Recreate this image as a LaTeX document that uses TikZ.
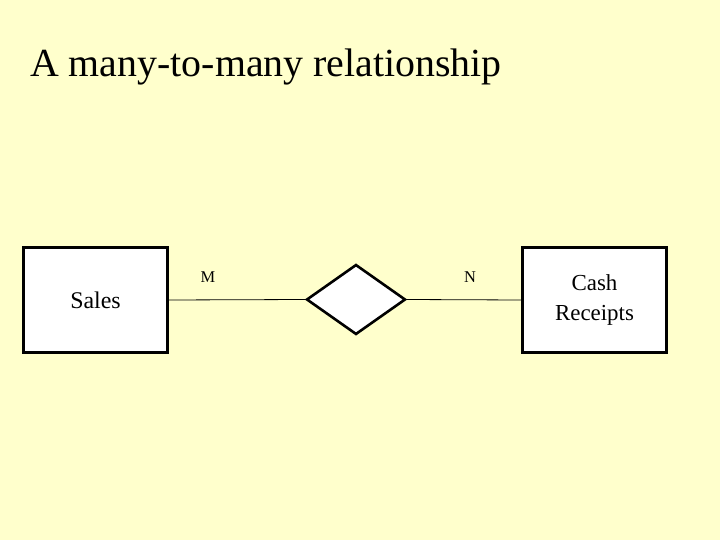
\documentclass[tikz,border=0pt]{standalone}
\usepackage{fontspec}
\setmainfont{Liberation Serif}
\usetikzlibrary{shapes.geometric}

\definecolor{slidebg}{HTML}{FFFFCC}

\begin{document}
\begin{tikzpicture}[x=1bp,y=-1bp,
  entity/.style={draw, line width=2.6bp, fill=white, minimum width=144bp, minimum height=105bp, inner sep=0pt, align=center, font=\fontsize{23}{30}\selectfont},
  reln/.style={draw, diamond, line width=2.6bp, fill=white, minimum width=99bp, minimum height=70bp, inner sep=0pt},
  card/.style={inner sep=0pt, font=\fontsize{16.5}{18}\selectfont}]

% Background
\fill[slidebg] (0,0) rectangle (720,540);
\useasboundingbox (0,0) rectangle (720,540);

% Title
\node[anchor=base west, inner sep=0pt, font=\fontsize{40}{46}\selectfont] (title) at (30,77) {A many-to-many relationship};

% Entities and relationship
\node[entity, font=\fontsize{24}{30}\selectfont] (sales) at (95.5,300) {Sales};
\node[entity] (cash) at (594.5,300) {Cash\\Receipts};
\node[reln] (rel) at (356,299.5) {};

% Connectors
\draw[line width=0.8bp] (sales.east) -- (rel.west);
\draw[line width=0.8bp] (rel.east) -- (cash.west);

% Cardinalities
\node[card] (m) at (208,277) {M};
\node[card] (n) at (470,277) {N};

\end{tikzpicture}
\end{document}
